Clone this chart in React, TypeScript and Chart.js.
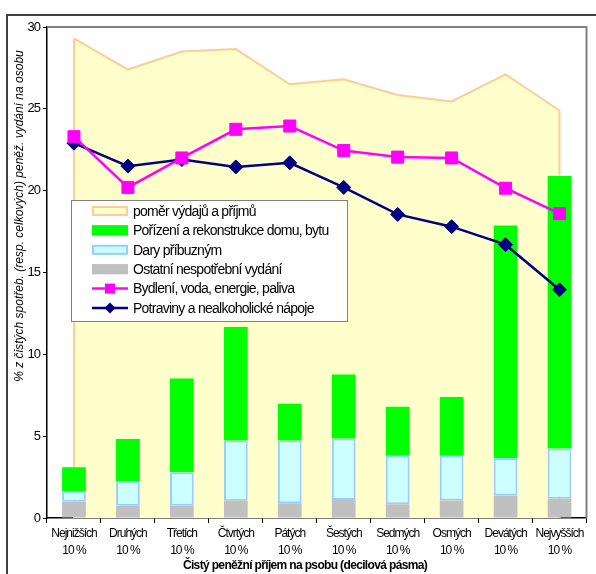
import React, { useEffect, useRef } from "react";
import { Chart, registerables } from "chart.js";

Chart.register(...registerables);

const categories = ["Nejnižších", "Druhých", "Třetích", "Čtvrtých", "Pátých", "Šestých", "Sedmých", "Osmých", "Devátých", "Nejvyšších"];
const decileSuffix = "10 %";

const ratioSeries = [29.3, 27.4, 28.5, 28.65, 26.5, 26.8, 25.85, 25.45, 27.1, 24.9];
const housingSeries = [23.3, 20.2, 22.0, 23.75, 23.95, 22.45, 22.05, 22.0, 20.15, 18.6];
const foodSeries = [22.9, 21.5, 21.9, 21.45, 21.7, 20.2, 18.55, 17.8, 16.7, 13.95];
const otherSeries = [1.0, 0.75, 0.75, 1.06, 0.9, 1.1, 0.84, 1.07, 1.37, 1.18];
const giftsSeries = [0.65, 1.5, 2.05, 3.67, 3.83, 3.75, 2.96, 2.73, 2.3, 3.06];
const buildingSeries = [1.45, 2.57, 5.72, 6.94, 2.25, 3.92, 3.0, 3.6, 14.2, 16.66];

const seriesNames = [
  "poměr výdajů a příjmů",
  "Pořízení a rekonstrukce domu, bytu",
  "Dary příbuzným",
  "Ostatní nespotřební vydání",
  "Bydlení, voda, energie, paliva",
  "Potraviny a nealkoholické nápoje",
];

const yTitle = "% z čistých spotřeb. (resp. celkových) peněž. vydání na osobu";
const xTitle = "Čistý peněžní příjem na psobu (decilová pásma)";

const FONT = "'Liberation Sans', Arial, sans-serif";
const C_AREA_FILL = "#FFFFCC";
const C_AREA_LINE = "#FFCC99";
const C_GREEN = "#00FF00";
const C_CYAN = "#CCFFFF";
const C_CYAN_BORDER = "#99CCFF";
const C_GRAY = "#C0C0C0";
const C_MAGENTA = "#FF00FF";
const C_NAVY = "#000080";

export default function App() {
  const ref = useRef<HTMLCanvasElement | null>(null);

  useEffect(() => {
    const canvas = ref.current;
    if (!canvas) return;

    const decorPlugin = {
      id: "decor",
      beforeDraw(chart: any) {
        const ctx = chart.ctx;
        ctx.save();
        ctx.fillStyle = "#ffffff";
        ctx.fillRect(0, 0, chart.width, chart.height);
        ctx.restore();
        ctx.letterSpacing = "-1px";
      },
      beforeDatasetsDraw(chart: any) {
        const ctx = chart.ctx;
        const { left, top, right, bottom } = chart.chartArea;
        ctx.save();
        ctx.strokeStyle = "#808080";
        ctx.lineWidth = 2;
        ctx.beginPath();
        ctx.moveTo(left, top);
        ctx.lineTo(right, top);
        ctx.lineTo(right, bottom);
        ctx.stroke();
        ctx.restore();
      },
      afterDatasetDraw(chart: any, args: any) {
        if (args.index !== 0) return;
        const ctx = chart.ctx;
        const pts = args.meta.data;
        if (!pts.length) return;
        const y0 = chart.scales.y.getPixelForValue(0);
        const first = pts[0];
        const last = pts[pts.length - 1];
        ctx.save();
        ctx.strokeStyle = C_AREA_LINE;
        ctx.lineWidth = 2;
        ctx.beginPath();
        ctx.moveTo(first.x, first.y);
        ctx.lineTo(first.x, y0);
        ctx.moveTo(last.x, last.y);
        ctx.lineTo(last.x, y0);
        ctx.stroke();
        ctx.restore();
      },
      afterDraw(chart: any) {
        const ctx = chart.ctx;
        ctx.save();
        // outer frame
        ctx.strokeStyle = "#404040";
        ctx.lineWidth = 2;
        ctx.strokeRect(7, 15, 800, 800);

        // legend box
        const lx = 71, ly = 200, lw = 276, lh = 121;
        ctx.fillStyle = "#ffffff";
        ctx.fillRect(lx, ly, lw, lh);
        ctx.strokeStyle = "#808080";
        ctx.lineWidth = 1;
        ctx.strokeRect(lx + 0.5, ly + 0.5, lw, lh);

        const symX = 92, symW = 36, textX = 133;
        const rowY0 = 211, rowStep = 19.4;
        ctx.font = `14px ${FONT}`;
        ctx.textBaseline = "middle";
        ctx.textAlign = "left";
        for (let i = 0; i < seriesNames.length; i++) {
          const cy = rowY0 + i * rowStep;
          if (i < 4) {
            const fills = [C_AREA_FILL, C_GREEN, C_CYAN, C_GRAY];
            const strokes = [C_AREA_LINE, C_GREEN, C_CYAN_BORDER, C_GRAY];
            ctx.fillStyle = fills[i];
            ctx.fillRect(symX, cy - 5, symW, 10);
            ctx.strokeStyle = strokes[i];
            ctx.lineWidth = 2;
            ctx.strokeRect(symX + 1, cy - 4, symW - 2, 8);
          } else {
            const col = i === 4 ? C_MAGENTA : C_NAVY;
            ctx.strokeStyle = col;
            ctx.lineWidth = 2.5;
            ctx.beginPath();
            ctx.moveTo(symX, cy);
            ctx.lineTo(symX + symW, cy);
            ctx.stroke();
            ctx.fillStyle = col;
            const mx = symX + symW / 2;
            if (i === 4) {
              ctx.fillRect(mx - 5, cy - 5, 10, 10);
            } else {
              ctx.beginPath();
              ctx.moveTo(mx - 5.5, cy);
              ctx.lineTo(mx, cy - 5.5);
              ctx.lineTo(mx + 5.5, cy);
              ctx.lineTo(mx, cy + 5.5);
              ctx.closePath();
              ctx.fill();
            }
          }
          ctx.fillStyle = "#000000";
          ctx.letterSpacing = "-0.75px";
          ctx.fillText(seriesNames[i], textX, cy + 1);
        }

        // y title
        ctx.save();
        ctx.translate(20, 216);
        ctx.rotate(-Math.PI / 2);
        ctx.font = `italic 12px ${FONT}`;
        ctx.letterSpacing = "0px";
        ctx.textAlign = "center";
        ctx.textBaseline = "middle";
        ctx.fillStyle = "#000000";
        ctx.fillText(yTitle, 0, 0);
        ctx.restore();

        // x title
        ctx.font = `bold 12px ${FONT}`;
        ctx.letterSpacing = "-0.65px";
        ctx.textAlign = "center";
        ctx.textBaseline = "middle";
        ctx.fillStyle = "#000000";
        ctx.fillText(xTitle, 305, 566);
        ctx.restore();
      },
    };

    const chart = new Chart(canvas, {
      type: "bar",
      data: {
        labels: categories.map((c) => [c, decileSuffix]),
        datasets: [
          {
            type: "line",
            label: seriesNames[0],
            data: ratioSeries,
            backgroundColor: C_AREA_FILL,
            borderColor: C_AREA_LINE,
            borderWidth: 2,
            fill: "origin",
            pointRadius: 0,
            tension: 0,
            order: 3,
            stack: "area",
          },
          {
            type: "bar",
            label: seriesNames[3],
            data: otherSeries,
            backgroundColor: C_GRAY,
            borderWidth: 0,
            order: 2,
            stack: "bars",
            barPercentage: 0.44,
            categoryPercentage: 1,
          },
          {
            type: "bar",
            label: seriesNames[2],
            data: giftsSeries,
            backgroundColor: C_CYAN,
            borderColor: C_CYAN_BORDER,
            borderWidth: 2,
            borderSkipped: false,
            order: 2,
            stack: "bars",
            barPercentage: 0.44,
            categoryPercentage: 1,
          },
          {
            type: "bar",
            label: seriesNames[1],
            data: buildingSeries,
            backgroundColor: C_GREEN,
            borderWidth: 0,
            order: 2,
            stack: "bars",
            barPercentage: 0.44,
            categoryPercentage: 1,
          },
          {
            type: "line",
            label: seriesNames[5],
            data: foodSeries,
            borderColor: C_NAVY,
            backgroundColor: C_NAVY,
            borderWidth: 2.5,
            pointStyle: "rectRot",
            pointRadius: 7,
            pointBorderWidth: 1,
            fill: false,
            tension: 0,
            order: 1,
            stack: "food",
          },
          {
            type: "line",
            label: seriesNames[4],
            data: housingSeries,
            borderColor: C_MAGENTA,
            backgroundColor: C_MAGENTA,
            borderWidth: 2.5,
            pointStyle: "rect",
            pointRadius: 8.5,
            pointBorderWidth: 1,
            fill: false,
            tension: 0,
            order: 0,
            stack: "housing",
          },
        ],
      } as any,
      options: {
        animation: false,
        responsive: false,
        devicePixelRatio: 1,
        layout: { padding: { left: 0, top: 27, right: 2, bottom: 0 } },
        plugins: {
          legend: { display: false },
          tooltip: { enabled: false },
        },
        scales: {
          x: {
            stacked: true,
            offset: true,
            grid: {
              offset: true,
              drawOnChartArea: false,
              drawTicks: true,
              tickLength: 5,
              color: "#000000",
              lineWidth: 1,
            },
            border: { display: true, color: "#000000", width: 1.5 },
            ticks: {
              autoSkip: false,
              maxRotation: 0,
              minRotation: 0,
              padding: 2,
              color: "#000000",
              font: { family: FONT, size: 12, lineHeight: 17 / 12 },
            },
            afterFit(scale: any) {
              scale.height = 56;
            },
          } as any,
          y: {
            stacked: true,
            min: 0,
            max: 30,
            ticks: {
              stepSize: 5,
              padding: 3,
              color: "#000000",
              font: { family: FONT, size: 13 },
            },
            grid: {
              drawOnChartArea: false,
              drawTicks: true,
              tickLength: 4,
              color: "#000000",
            },
            border: { display: true, color: "#000000", width: 1.5 },
            afterFit(scale: any) {
              scale.width = 47;
            },
          } as any,
        },
      },
      plugins: [decorPlugin],
    });

    return () => {
      chart.destroy();
    };
  }, []);

  return (
    <div style={{ position: "absolute", left: 0, top: 0, width: 596, height: 574 }}>
      <canvas ref={ref} width={596} height={574} style={{ width: 596, height: 574, display: "block" }} />
    </div>
  );
}
